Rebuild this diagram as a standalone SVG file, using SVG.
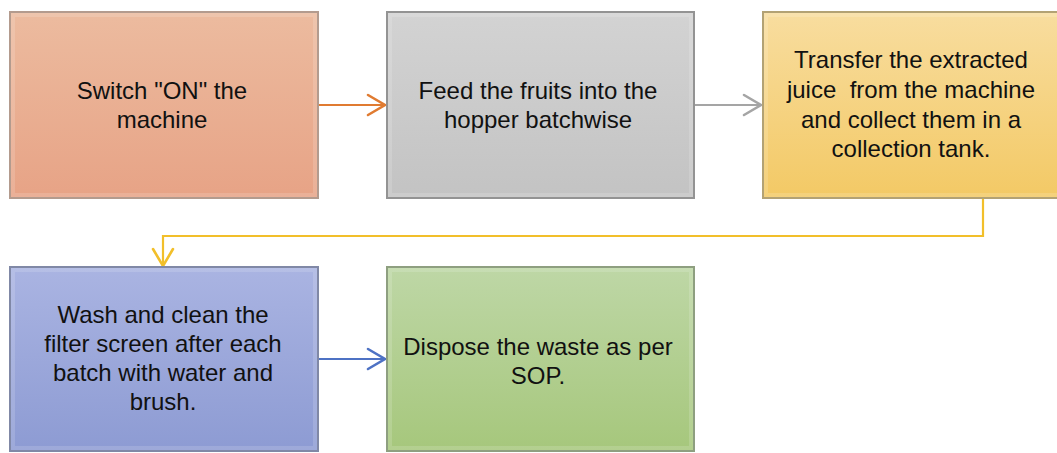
<svg xmlns="http://www.w3.org/2000/svg" width="1057" height="453" viewBox="0 0 1057 453">
  <style>
    .box { stroke-width: 2; }
    .inner { fill: none; stroke: #ffffff; stroke-opacity: 0.15; stroke-width: 4; }
    .lbl { font-family: "Liberation Sans", Arial, sans-serif; font-size: 24px; fill: #111111; text-anchor: middle; white-space: pre; }
    .conn { fill: none; stroke-width: 2.2; }
    .head { fill: none; stroke-width: 2.6; stroke-linecap: round; stroke-linejoin: miter; }
  </style>
  <defs>
    <linearGradient id="gOrange" x1="0" y1="0" x2="0" y2="1">
      <stop offset="0" stop-color="#ecbb9f"/>
      <stop offset="1" stop-color="#e7a386"/>
    </linearGradient>
    <linearGradient id="gGray" x1="0" y1="0" x2="0" y2="1">
      <stop offset="0" stop-color="#d3d3d3"/>
      <stop offset="1" stop-color="#c3c3c3"/>
    </linearGradient>
    <linearGradient id="gYellow" x1="0" y1="0" x2="0" y2="1">
      <stop offset="0" stop-color="#f8dd9f"/>
      <stop offset="1" stop-color="#f3c965"/>
    </linearGradient>
    <linearGradient id="gBlue" x1="0" y1="0" x2="0" y2="1">
      <stop offset="0" stop-color="#aab4e2"/>
      <stop offset="1" stop-color="#8d9bd3"/>
    </linearGradient>
    <linearGradient id="gGreen" x1="0" y1="0" x2="0" y2="1">
      <stop offset="0" stop-color="#bed7a6"/>
      <stop offset="1" stop-color="#a6c77c"/>
    </linearGradient>
  </defs>

  <!-- connectors -->
  <g id="connectors">
    <line class="conn" x1="319" y1="105" x2="385" y2="105" stroke="#e07b31"/>
    <polyline class="head" points="368,95 385,105 368,115" stroke="#e07b31"/>

    <line class="conn" x1="695" y1="105" x2="761" y2="105" stroke="#a5a5a5"/>
    <polyline class="head" points="744,95 761,105 744,115" stroke="#a5a5a5"/>

    <polyline class="conn" points="983,199 983,236 163,236 163,266" stroke="#f2bf2a"/>
    <polyline class="head" points="153,249 163,266 173,249" stroke="#f2bf2a"/>

    <line class="conn" x1="319" y1="359" x2="385" y2="359" stroke="#4e72c4"/>
    <polyline class="head" points="368,349 385,359 368,369" stroke="#4e72c4"/>
  </g>

  <g id="n1">
    <rect class="box" x="10" y="12" width="308" height="186" fill="url(#gOrange)" stroke="#b39b8e"/>
    <rect class="inner" x="13" y="15" width="302" height="180"/>
    <text class="lbl" x="162" y="99">Switch "ON" the</text>
    <text class="lbl" x="162" y="128">machine</text>
  </g>

  <g id="n2">
    <rect class="box" x="387" y="12" width="307" height="186" fill="url(#gGray)" stroke="#939393"/>
    <rect class="inner" x="390" y="15" width="301" height="180"/>
    <text class="lbl" x="538" y="99">Feed the fruits into the</text>
    <text class="lbl" x="538" y="128">hopper batchwise</text>
  </g>

  <g id="n3">
    <rect class="box" x="763" y="12" width="300" height="186" fill="url(#gYellow)" stroke="#b3a274"/>
    <rect class="inner" x="766" y="15" width="294" height="180"/>
    <text class="lbl" x="911" y="68">Transfer the extracted</text>
    <text class="lbl" x="911" y="98" xml:space="preserve">juice  from the machine</text>
    <text class="lbl" x="911" y="128">and collect them in a</text>
    <text class="lbl" x="911" y="157">collection tank.</text>
  </g>

  <g id="n4">
    <rect class="box" x="10" y="267" width="308" height="184" fill="url(#gBlue)" stroke="#8088a6"/>
    <rect class="inner" x="13" y="270" width="302" height="178"/>
    <text class="lbl" x="163" y="323">Wash and clean the</text>
    <text class="lbl" x="163" y="352">filter screen after each</text>
    <text class="lbl" x="163" y="381">batch with water and</text>
    <text class="lbl" x="163" y="410">brush.</text>
  </g>

  <g id="n5">
    <rect class="box" x="387" y="267" width="307" height="184" fill="url(#gGreen)" stroke="#8e9f80"/>
    <rect class="inner" x="390" y="270" width="301" height="178"/>
    <text class="lbl" x="538" y="355">Dispose the waste as per</text>
    <text class="lbl" x="538" y="384">SOP.</text>
  </g>
</svg>
